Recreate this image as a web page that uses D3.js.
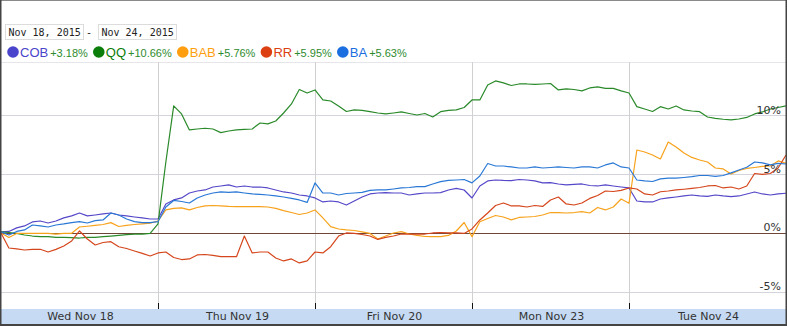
<!DOCTYPE html>
<html><head><meta charset="utf-8">
<script src="https://cdn.jsdelivr.net/npm/d3@7/dist/d3.min.js"></script>
<style>body{margin:0;background:#fff}svg{display:block}</style>
</head><body>
<script>
// ---- data (percent change, 20 samples per trading day) ----
const days = ["Wed Nov 18","Thu Nov 19","Fri Nov 20","Mon Nov 23","Tue Nov 24"];
const yTicks = [-5, 0, 5, 10];
const yTickLabels = ["-5%", "0%", "5%", "10%"];
const dateFrom = "Nov 18, 2015";
const dateTo = "Nov 24, 2015";
const seriesNames = ["COB","QQ","BAB","RR","BA"];
const seriesChange = ["+3.18%","+10.66%","+5.76%","+5.95%","+5.63%"];
const seriesColors = ["#5548c8","#2a8a2a","#f7a21b","#d5461c","#2a78d6"];
const legendColors = ["#4a44cc","#0a7d0a","#ff9f10","#dc3f12","#1a6ee0"];

const cob = [0.09,0.13,0.43,0.6,0.94,1.02,0.85,1.02,1.28,1.45,1.70,1.45,1.53,1.62,1.70,1.53,1.45,1.36,1.28,1.19,
  1.19,2.47,2.81,2.98,3.40,3.57,3.66,3.91,4.0,4.09,3.91,4.0,3.91,3.91,3.83,3.66,3.49,3.40,3.23,3.15,
  2.98,2.64,2.72,2.64,2.38,2.72,3.06,3.32,3.40,3.43,3.40,3.40,3.23,3.32,3.40,3.40,3.43,3.66,3.79,3.66,
  2.98,4.0,4.43,4.51,4.47,4.45,4.55,4.51,4.43,4.26,4.28,4.17,4.09,4.13,4.17,4.04,4.0,4.09,4.0,3.91,
  3.83,2.72,2.64,2.64,2.89,2.98,3.06,3.15,3.23,3.15,3.11,3.23,3.15,3.09,3.15,3.32,3.49,3.32,3.23,3.32,3.38];
const qq = [0.09,0.04,-0.04,-0.17,-0.26,-0.31,-0.31,-0.37,-0.37,-0.40,-0.43,-0.37,-0.37,-0.31,-0.26,-0.20,-0.14,-0.09,-0.09,-0.03,
  0.77,6.04,10.81,10.13,8.77,8.85,8.91,8.85,8.54,8.68,8.77,8.81,8.85,9.36,9.28,9.53,10.21,10.98,12.21,11.91,
  12.17,11.32,11.23,10.81,10.34,10.47,10.43,10.32,10.21,10.13,10.21,10.30,10.17,10.04,10.17,9.87,10.32,10.43,10.47,10.68,
  11.32,11.32,12.6,12.94,12.77,12.55,12.68,12.68,12.64,12.68,12.72,12.17,12.26,12.21,12.09,12.34,12.43,12.31,12.31,12.09,
  11.91,10.75,10.55,10.34,10.75,10.55,10.81,10.47,10.38,10.32,9.87,9.76,9.68,9.62,9.70,9.83,10.13,10.30,10.55,10.68,10.81];
const bab = [0,-0.38,-0.04,-0.03,-0.03,-0.03,-0.04,-0.09,-0.04,-0.03,0.51,0.57,0.64,0.72,0.88,0.55,0.64,0.72,0.77,0.83,
  1.02,1.96,2.10,2.13,1.96,2.17,2.30,2.34,2.30,2.26,2.24,2.24,2.24,2.24,2.21,2.09,1.90,1.74,1.57,1.70,
  1.96,1.28,0.54,0.34,0.26,0.21,0.09,-0.04,-0.51,-0.26,0,0.11,-0.09,-0.21,-0.30,-0.31,-0.31,-0.21,0.17,0.89,
  -0.31,0.96,1.23,1.49,1.36,1.11,1.32,1.36,1.40,1.53,1.74,1.74,1.70,1.74,1.81,1.70,2.17,1.96,2.21,2.89,
  2.53,7.06,6.89,6.64,6.30,7.74,7.32,6.81,6.43,6.21,6.04,5.53,5.45,5.02,5.32,5.49,5.57,5.66,5.70,6.13,5.93];
const rr = [0,-1.28,-1.36,-1.45,-1.4,-1.39,-1.62,-1.40,-1.11,-0.68,0.17,-0.51,-1.02,-0.81,-0.74,-1.17,-1.32,-1.53,-1.74,-1.96,
  -1.70,-1.62,-2.09,-2.26,-2.21,-1.87,-1.83,-1.91,-2.02,-2.02,-2.02,-0.26,-1.70,-1.62,-1.62,-2.13,-2.38,-2.21,-2.55,-2.38,
  -1.62,-1.70,-1.17,-0.26,0,-0.04,-0.13,-0.26,-0.55,-0.38,-0.26,-0.09,-0.09,-0.09,-0.09,0,0.04,0,0,-0.04,
  0.34,1.11,1.70,2.34,2.55,2.30,2.30,2.21,2.34,2.26,2.81,3.06,2.47,2.38,2.55,2.94,3.19,3.57,3.53,3.62,
  3.83,3.74,3.32,3.23,3.51,3.57,3.66,3.72,3.79,3.87,4.0,4.04,3.83,3.91,3.74,4.0,5.06,4.98,5.06,5.53,6.64];
const ba = [0.09,-0.17,0.13,0.26,0.68,0.6,0.51,0.68,0.77,0.88,0.96,0.85,1.05,1.11,1.70,1.53,1.19,0.96,0.88,0.88,
  0.96,2.21,2.77,2.68,2.55,2.98,3.23,3.40,3.49,3.45,3.49,3.40,3.32,3.28,3.23,3.15,3.06,2.95,2.81,2.6,
  4.26,3.40,3.40,3.23,3.36,3.40,3.45,3.62,3.66,3.66,3.74,3.83,3.87,3.94,3.94,4.17,4.37,4.47,4.51,4.55,
  4.26,4.85,5.91,5.7,5.7,5.62,5.53,5.53,5.62,5.53,5.57,5.62,5.57,5.53,5.62,5.62,5.53,5.79,5.96,5.62,
  5.53,4.51,4.43,4.38,4.60,4.66,4.66,4.72,4.79,4.89,4.89,4.81,4.89,5.11,5.36,5.59,6.04,5.96,5.79,5.93,5.87];
const seriesData = [cob, qq, bab, rr, ba];
const samplesPerDay = 20;

// ---- drawing ----
const W = 787, H = 326;
const svg = d3.select("body").append("svg").attr("width", W).attr("height", H);
const plotTop = 62, plotBottom = 309, left = 1, right = 786;

const x = d3.scaleLinear().domain([0, days.length]).range([left, right]);
const y = d3.scaleLinear().domain([-6.47, 14.55]).range([plotBottom, plotTop]);

// plot top border
svg.append("line").attr("x1", left).attr("x2", right).attr("y1", plotTop + 0.5).attr("y2", plotTop + 0.5)
  .attr("stroke", "#e6e6ea");

// horizontal gridlines
svg.append("g").selectAll("line").data(yTicks.filter(v => v !== 0)).join("line")
  .attr("x1", left).attr("x2", right)
  .attr("y1", d => Math.round(y(d)) + 0.5).attr("y2", d => Math.round(y(d)) + 0.5)
  .attr("stroke", "#d4d4de");

// vertical gridlines at day boundaries
const bounds = d3.range(1, days.length);
svg.append("g").selectAll("line").data(bounds).join("line")
  .attr("x1", d => Math.round(x(d)) + 0.5).attr("x2", d => Math.round(x(d)) + 0.5)
  .attr("y1", plotTop).attr("y2", plotBottom)
  .attr("stroke", "#d0d0d0");

// zero line
svg.append("line").attr("x1", 0).attr("x2", right).attr("y1", Math.round(y(0)) + 0.5).attr("y2", Math.round(y(0)) + 0.5)
  .attr("stroke", "#6e4638").attr("stroke-width", 1.2);

// series lines
const line = d3.line().x((d, i) => x(i / samplesPerDay)).y(d => y(d));
seriesData.forEach((s, k) => {
  svg.append("path").datum(s).attr("d", line)
    .attr("fill", "none").attr("stroke", seriesColors[k]).attr("stroke-width", 1.2)
    .attr("stroke-linejoin", "round");
});

// y labels
svg.append("g").selectAll("text").data(yTicks).join("text")
  .attr("x", 781).attr("y", d => y(d) - 1.5)
  .attr("text-anchor", "end")
  .attr("font-family", "DejaVu Sans, Verdana, sans-serif").attr("font-size", 11)
  .attr("fill", "#333")
  .text((d, i) => yTickLabels[i]);

// x-axis band
svg.append("rect").attr("x", left).attr("y", plotBottom).attr("width", right - left).attr("height", 15)
  .attr("fill", "#c6dbf3");
// tick marks at day boundaries
svg.append("g").selectAll("line").data(bounds).join("line")
  .attr("x1", d => Math.round(x(d)) + 0.5).attr("x2", d => Math.round(x(d)) + 0.5)
  .attr("y1", plotBottom - 6).attr("y2", plotBottom)
  .attr("stroke", "#111");
// day labels
svg.append("g").selectAll("text").data(days).join("text")
  .attr("x", (d, i) => x(i + 0.5) + 1).attr("y", 320)
  .attr("text-anchor", "middle")
  .attr("font-family", "DejaVu Sans, Verdana, sans-serif").attr("font-size", 11)
  .attr("fill", "#333")
  .text(d => d);

// outer frame
svg.append("line").attr("x1", 0).attr("x2", W).attr("y1", 0.5).attr("y2", 0.5).attr("stroke", "#8a8a8a");
svg.append("line").attr("x1", 0.75).attr("x2", 0.75).attr("y1", 0).attr("y2", H).attr("stroke", "#444").attr("stroke-width", 1.5);
svg.append("line").attr("x1", 786.25).attr("x2", 786.25).attr("y1", 0).attr("y2", H).attr("stroke", "#444").attr("stroke-width", 1.5);
svg.append("line").attr("x1", 0).attr("x2", W).attr("y1", 325).attr("y2", 325).attr("stroke", "#444").attr("stroke-width", 2);

// date range boxes
const boxes = [{t: dateFrom, x: 5.5}, {t: dateTo, x: 98.5}];
boxes.forEach(b => {
  svg.append("rect").attr("x", b.x).attr("y", 24.5).attr("width", 78).attr("height", 15)
    .attr("fill", "#fff").attr("stroke", "#dcdcdc");
  svg.append("text").attr("x", b.x + 3).attr("y", 36)
    .attr("font-family", "DejaVu Sans Mono, monospace").attr("font-size", 10).attr("fill", "#222")
    .text(b.t);
});
svg.append("text").attr("x", 89).attr("y", 36).attr("text-anchor", "middle")
  .attr("font-family", "DejaVu Sans Mono, monospace").attr("font-size", 10).attr("fill", "#222").text("-");

// legend
let lx = 7;
seriesNames.forEach((n, k) => {
  svg.append("circle").attr("cx", lx + 6).attr("cy", 52).attr("r", 5.8).attr("fill", legendColors[k]);
  const t1 = svg.append("text").attr("x", lx + 13).attr("y", 56.5)
    .attr("font-family", "Liberation Sans, Arial, sans-serif").attr("font-size", 13)
    .attr("fill", legendColors[k]).text(n);
  const w1 = t1.node().getComputedTextLength();
  const t2 = svg.append("text").attr("x", lx + 13 + w1 + 2).attr("y", 56.5)
    .attr("font-family", "Liberation Sans, Arial, sans-serif").attr("font-size", 11)
    .attr("fill", "#2e8b2e").text(seriesChange[k]);
  const w2 = t2.node().getComputedTextLength();
  lx = lx + 13 + w1 + 2 + w2 + 5;
});
</script>
</body></html>
